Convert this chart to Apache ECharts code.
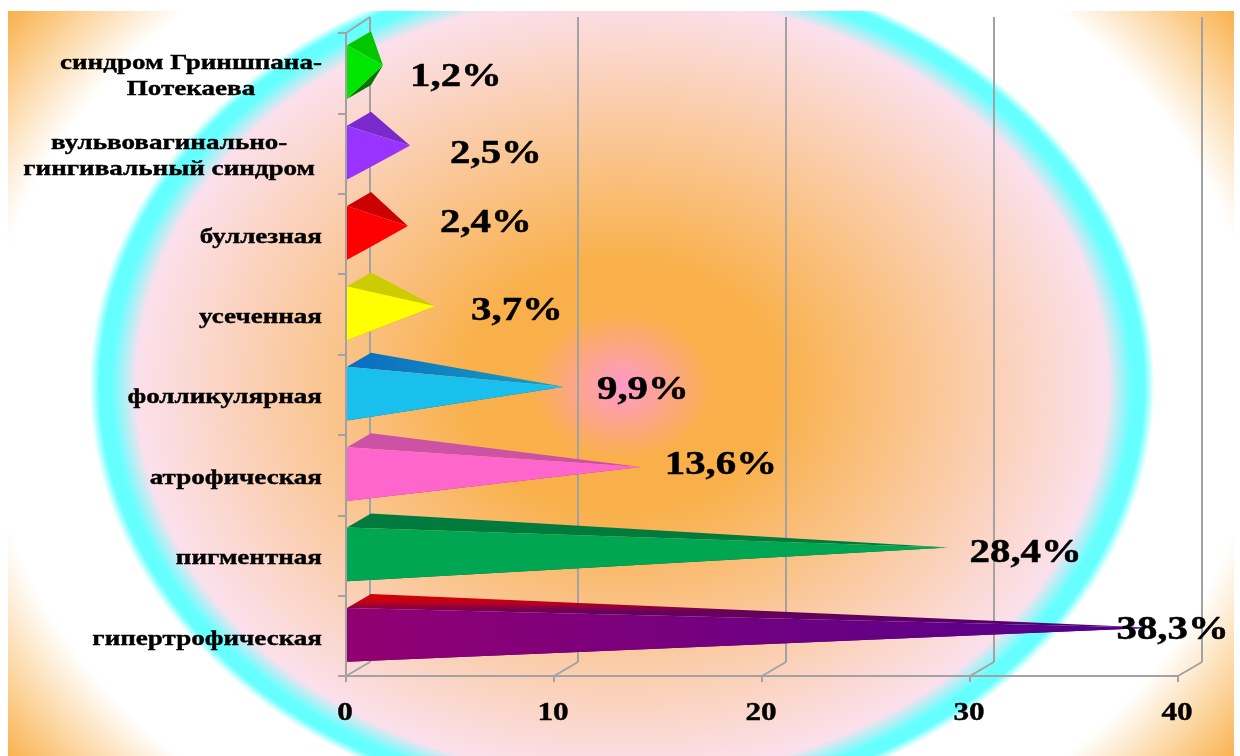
<!DOCTYPE html>
<html lang="ru">
<head>
<meta charset="utf-8">
<title>Клинические формы</title>
<script src="https://cdn.jsdelivr.net/npm/echarts@6/dist/echarts.min.js"></script>
<style>
  html, body { margin: 0; padding: 0; background: #fff; }
  #chart { width: 1240px; height: 756px; }
</style>
</head>
<body>
<div id="chart"></div>
<script>
// Categories run from the bottom of the axis to the top.
const categories = [
  'гипертрофическая',
  'пигментная',
  'атрофическая',
  'фолликулярная',
  'усеченная',
  'буллезная',
  'вульвовагинально-\nгингивальный синдром',
  'синдром Гриншпана-\nПотекаева'
];
const values = [38.3, 28.4, 13.6, 9.9, 3.7, 2.4, 2.5, 1.2];
const valueLabels = ['38,3%', '28,4%', '13,6%', '9,9%', '3,7%', '2,4%', '2,5%', '1,2%'];
const xTicks = [0, 10, 20, 30, 40];

// Hand-placed value captions: offset of each caption centre from its pyramid tip.
const captionDx = [18, 77, 80, 79, 82, 78, 86, 73];
const captionDy = [3, 6, -1, 4, 5, -2, 9, 13];
// Extra shift of a category caption from the common right edge.
const categoryDx = [0, 0, 0, 0, 0, 0, -7, 0];

const LinearGradient = echarts.graphic.LinearGradient;
const RadialGradient = echarts.graphic.RadialGradient;
const stopsOf = (a, b) => [{ offset: 0, color: a }, { offset: 1, color: b }];

const frontColors = [
  new LinearGradient(0, 0, 1, 0, stopsOf('#920072', '#4f0090')),
  '#00a651', '#ff66cc', '#19c0ee', '#ffff00', '#ff0000', '#9933ff', '#00e600'
];
const topColors = [
  new LinearGradient(0, 0, 0, 1, [
    { offset: 0, color: '#d80000' },
    { offset: 0.25, color: '#c0001a' },
    { offset: 0.5, color: '#6a0058' },
    { offset: 1, color: '#4f0070' }
  ]),
  '#007a3d', '#cc52a3',
  new LinearGradient(0, 0, 1, 0, stopsOf('#0b6cc0', '#1a9fc2')),
  '#cccc00', '#cc0000', '#7a29cc', '#00c800'
];
const bottomColors = ['#4a0040', '#005c2e', '#993d7a', '#0d5f80', '#999900', '#990000', '#5c1f99', '#007400'];

const AXIS_GRAY = '#a2a2a2';
const DEPTH_X = 24;
const DEPTH_Y = -14;
const SERIF = '"Liberation Serif", "Times New Roman", serif';
const STRETCH = 1.2;
const CATEGORY_STRETCH = 1.23;

const measure = document.createElement('canvas').getContext('2d');
function textWidth(text, font) {
  measure.font = font;
  return Math.max.apply(null, text.split('\n').map(l => measure.measureText(l).width));
}

// Elliptical backdrop: a radial gradient on a rectangle squeezed by the ellipse ratio.
const BG = { x: 8, y: 11, width: 1226, height: 745, cx: 622, cy: 386, ry: 428, ratio: 531 / 428 };
const backdrop = {
  type: 'rect',
  silent: true,
  z: -10,
  x: BG.x,
  y: BG.y,
  scaleX: BG.ratio,
  shape: { x: 0, y: 0, width: BG.width / BG.ratio, height: BG.height },
  style: {
    fill: new RadialGradient((BG.cx - BG.x) / BG.ratio, BG.cy - BG.y, 1.451 * BG.ry, [
      { offset: 0, color: '#ff99cc' },
      { offset: 0.117, color: '#f9b04a' },
      { offset: 0.2, color: '#f9b04a' },
      { offset: 0.63, color: '#fbe0ec' },
      { offset: 0.662, color: '#66ffff' },
      { offset: 0.678, color: '#66ffff' },
      { offset: 0.691, color: '#ffffff' },
      { offset: 0.827, color: '#ffffff' },
      { offset: 1, color: '#f9b04a' }
    ], true)
  }
};

// Back wall and floor of the pseudo-3D plot.
function renderWall(params, api) {
  const cs = params.coordSys;
  const x = api.coord([api.value(0), 0])[0];
  const bottom = cs.y + cs.height;
  const children = [];
  const line = (x1, y1, x2, y2) => children.push({
    type: 'line',
    shape: { x1, y1, x2, y2 },
    style: { stroke: AXIS_GRAY, lineWidth: 2, fill: null }
  });
  line(x + DEPTH_X, cs.y - 16, x + DEPTH_X, bottom + DEPTH_Y);
  line(x, bottom, x + DEPTH_X, bottom + DEPTH_Y);
  if (api.value(0) === 0) line(x, cs.y, x + DEPTH_X, cs.y - 16);
  return { type: 'group', children };
}

// One pyramid: front-facing side, top side and, for stubby ones, the underside.
function renderPyramid(params, api) {
  const i = params.dataIndex;
  const origin = api.coord([0, api.value(1)]);
  const end = api.coord([api.value(0), api.value(1)]);
  const half = api.size([0, 1])[1] * 0.335;
  const x0 = origin[0] + 1;
  const cy = origin[1] - 1;
  const tip = [end[0] + DEPTH_X / 2, cy + DEPTH_Y / 2];
  const frontTop = [x0, cy - half];
  const frontBottom = [x0, cy + half];
  const backTop = [x0 + DEPTH_X, cy - half + DEPTH_Y];
  const backBottom = [x0 + DEPTH_X, cy + half + DEPTH_Y];
  const face = (points, fill) => ({
    type: 'polygon',
    shape: { points },
    style: { fill, stroke: null }
  });
  return {
    type: 'group',
    children: [
      face([frontBottom, backBottom, tip], bottomColors[i]),
      face([frontTop, backTop, tip], topColors[i]),
      face([frontTop, frontBottom, tip], frontColors[i])
    ]
  };
}

function renderCaption(params, api) {
  const i = params.dataIndex;
  const end = api.coord([api.value(0), api.value(1)]);
  return {
    type: 'text',
    x: end[0] + DEPTH_X / 2 + captionDx[i],
    y: end[1] - 1.5 + DEPTH_Y / 2 + captionDy[i],
    scaleX: STRETCH,
    style: {
      text: valueLabels[i],
      font: 'bold 34px ' + SERIF,
      fill: '#000',
      stroke: '#000',
      lineWidth: 0.5,
      align: 'center',
      verticalAlign: 'middle'
    }
  };
}

function renderCategoryText(params, api) {
  const i = params.dataIndex;
  const pos = api.coord([0, api.value(1)]);
  const font = 'bold 22px ' + SERIF;
  const text = categories[i];
  const width = textWidth(text, font) * CATEGORY_STRETCH;
  return {
    type: 'text',
    x: pos[0] - 24 - width / 2 + categoryDx[i],
    y: pos[1] + 3,
    scaleX: CATEGORY_STRETCH,
    style: {
      text,
      font,
      lineHeight: 26,
      fill: '#000',
      stroke: '#000',
      lineWidth: 0.4,
      align: 'center',
      verticalAlign: 'middle'
    }
  };
}

function renderTickText(params, api) {
  const cs = params.coordSys;
  const x = api.coord([api.value(0), 0])[0];
  return {
    type: 'text',
    x: x - 1,
    y: cs.y + cs.height + 37,
    scaleX: STRETCH,
    style: {
      text: String(api.value(0)),
      font: 'bold 26px ' + SERIF,
      fill: '#000',
      stroke: '#000',
      lineWidth: 0.4,
      align: 'center',
      verticalAlign: 'middle'
    }
  };
}

const rows = values.map((v, i) => [v, i]);
const tickRows = xTicks.map(v => [v, 0]);

const chart = echarts.init(document.getElementById('chart'), null, { renderer: 'canvas' });
chart.setOption({
  animation: false,
  backgroundColor: '#ffffff',
  tooltip: { show: false },
  graphic: { elements: [backdrop] },
  grid: { left: 346, right: 62, top: 33, bottom: 80, containLabel: false },
  xAxis: {
    type: 'value',
    min: 0,
    max: 40,
    interval: 10,
    axisLine: { show: true, lineStyle: { color: AXIS_GRAY, width: 2 } },
    axisTick: { show: true, length: 6, lineStyle: { color: AXIS_GRAY, width: 2 } },
    axisLabel: { show: false },
    splitLine: { show: false }
  },
  yAxis: {
    type: 'category',
    data: categories,
    axisLine: { show: true, lineStyle: { color: AXIS_GRAY, width: 2 } },
    axisTick: { show: true, length: 8, lineStyle: { color: AXIS_GRAY, width: 2 } },
    axisLabel: { show: false },
    splitLine: { show: false }
  },
  series: [
    { type: 'custom', name: 'стенка', z: 1, silent: true, clip: false, renderItem: renderWall, data: tickRows },
    { type: 'custom', name: 'доля, %', z: 2, silent: true, clip: false, renderItem: renderPyramid, data: rows },
    { type: 'custom', name: 'подписи значений', z: 3, silent: true, clip: false, renderItem: renderCaption, data: rows },
    { type: 'custom', name: 'формы', z: 3, silent: true, clip: false, renderItem: renderCategoryText, data: rows },
    { type: 'custom', name: 'шкала', z: 3, silent: true, clip: false, renderItem: renderTickText, data: tickRows }
  ]
});
</script>
</body>
</html>
